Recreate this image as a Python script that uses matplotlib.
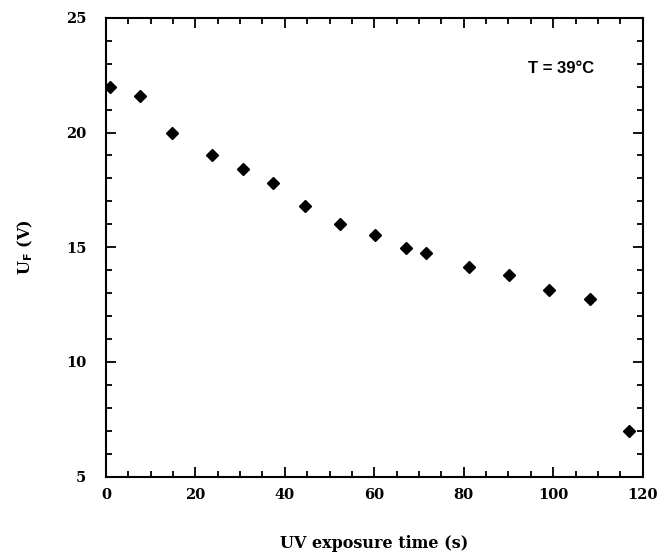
import matplotlib
matplotlib.use("Agg")
from matplotlib import pyplot as plt
from matplotlib.ticker import MultipleLocator

# UV exposure time (s) and forward voltage U_F (V)
time_s = [1, 7.6, 14.7, 23.7, 30.6, 37.3, 44.5, 52.3, 60.1, 67.0, 71.5, 81.1, 90.1, 99.0, 108.2, 116.9]
u_f = [22.0, 21.6, 20.0, 19.0, 18.4, 17.8, 16.8, 16.0, 15.55, 14.95, 14.75, 14.15, 13.8, 13.15, 12.75, 7.0]

serif = "DejaVu Serif"

fig = plt.figure(figsize=(6.66, 5.55), dpi=100)
ax = fig.add_axes([0.159, 0.141, 0.806, 0.827])

ax.plot(time_s, u_f, linestyle="none", marker="D", markersize=6, color="black")

ax.set_xlim(0, 120)
ax.set_ylim(5, 25)
ax.xaxis.set_major_locator(MultipleLocator(20))
ax.xaxis.set_minor_locator(MultipleLocator(5))
ax.yaxis.set_major_locator(MultipleLocator(5))
ax.yaxis.set_minor_locator(MultipleLocator(1))
ax.tick_params(which="both", direction="in", top=True, right=True, width=1.3)
ax.tick_params(which="major", length=7)
ax.tick_params(which="minor", length=4)
ax.tick_params(axis="x", pad=8)
ax.tick_params(axis="y", pad=14)
for lab in ax.get_xticklabels() + ax.get_yticklabels():
    lab.set_fontfamily(serif)
    lab.set_fontweight("bold")
    lab.set_fontsize(10.5)
for s in ax.spines.values():
    s.set_linewidth(1.5)

ax.set_xlabel("UV exposure time (s)", fontfamily=serif, fontweight="bold", fontsize=11.5, labelpad=24)
ax.set_ylabel(r"U$_\mathbf{F}$ (V)", fontfamily=serif, fontweight="bold", fontsize=11.5, labelpad=22)

ax.text(101.7, 22.8, "T = 39°C", fontfamily="Liberation Sans", fontweight="bold", fontsize=12, ha="center", va="center")

fig.savefig("out.png", dpi=100)
